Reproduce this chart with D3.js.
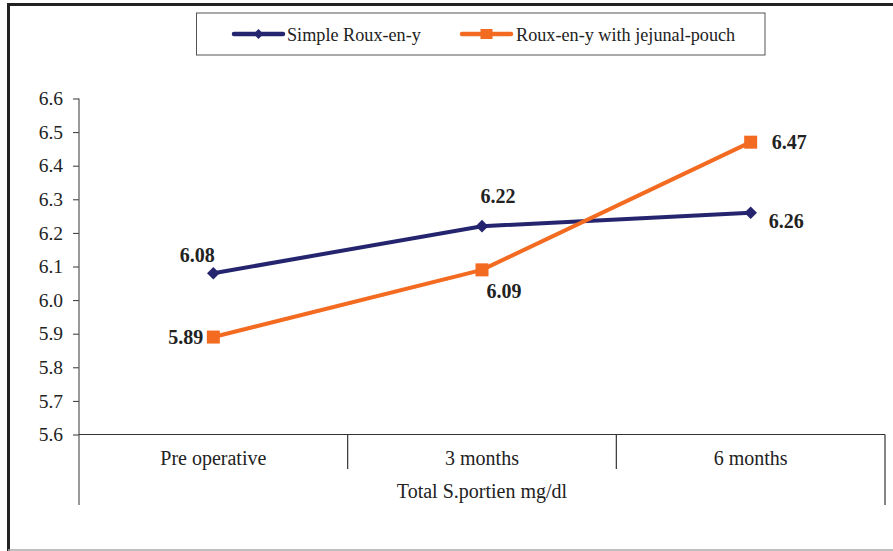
<!DOCTYPE html>
<html><head><meta charset="utf-8">
<script src="https://cdn.jsdelivr.net/npm/d3@7"></script>
<style>body{margin:0;background:#fff}text{font-family:"Liberation Serif","Times New Roman",serif}</style>
</head><body>
<svg id="c" width="893" height="551"></svg>
<script>
const categories = ["Pre operative", "3 months", "6 months"];
const seriesNames = ["Simple Roux-en-y", "Roux-en-y with jejunal-pouch"];
const simpleValues = [6.08, 6.22, 6.26];
const pouchValues = [5.89, 6.09, 6.47];
const yTicks = [5.6, 5.7, 5.8, 5.9, 6.0, 6.1, 6.2, 6.3, 6.4, 6.5, 6.6];
const axisTitle = "Total S.portien mg/dl";
const colors = ["#25256f", "#f36b21"];
const FONT = "Liberation Serif, Times New Roman, serif";

const svg = d3.select("#c").attr("font-family", FONT);
const L = 79, R = 885, T = 98.5, B = 434.5;
const x = d3.scaleBand().domain(categories).range([L, R]).padding(0);
const y = d3.scaleLinear().domain([5.6, 6.6]).range([B, T]);
const cx = c => x(c) + x.bandwidth() / 2;

// outer frame
svg.append("line").attr("x1", 8.5).attr("x2", 893).attr("y1", 4.5).attr("y2", 4.5).attr("stroke", "#222").attr("stroke-width", 3);
svg.append("line").attr("x1", 8.5).attr("x2", 8.5).attr("y1", 3).attr("y2", 551).attr("stroke", "#222").attr("stroke-width", 3);
svg.append("line").attr("x1", 8).attr("x2", 893).attr("y1", 550).attr("y2", 550).attr("stroke", "#aaa").attr("stroke-width", 1.5);

// y axis
const ya = svg.append("g").attr("transform", `translate(${L},0)`)
  .call(d3.axisLeft(y).tickValues(yTicks).tickFormat(d3.format(".1f")).tickSize(6).tickPadding(10));
ya.attr("font-family", FONT).attr("font-size", 19.5);
ya.select(".domain").remove();
ya.selectAll(".tick line").attr("stroke", "#333");
ya.selectAll(".tick text").attr("fill", "#222");
svg.append("line").attr("x1", L).attr("x2", L).attr("y1", T).attr("y2", 505).attr("stroke", "#555").attr("stroke-width", 1.2);

// category table
svg.append("line").attr("x1", L).attr("x2", R).attr("y1", B).attr("y2", B).attr("stroke", "#333").attr("stroke-width", 1.2);
svg.append("line").attr("x1", R).attr("x2", R).attr("y1", B).attr("y2", 505).attr("stroke", "#333").attr("stroke-width", 1.2);
categories.slice(1).forEach(c => {
  svg.append("line").attr("x1", x(c)).attr("x2", x(c)).attr("y1", B).attr("y2", 469).attr("stroke", "#333").attr("stroke-width", 1.2);
});
svg.selectAll("text.cat").data(categories).join("text").attr("class", "cat")
  .attr("x", d => cx(d)).attr("y", 465).attr("text-anchor", "middle").attr("font-size", 20).attr("fill", "#222").text(d => d);
svg.append("text").attr("x", cx(categories[1])).attr("y", 498).attr("text-anchor", "middle").attr("font-size", 20).attr("fill", "#222").text(axisTitle);

// lines
const line = d3.line().x((d, i) => cx(categories[i])).y(d => y(d));
[simpleValues, pouchValues].forEach((vals, k) => {
  svg.append("path").datum(vals).attr("d", line).attr("fill", "none").attr("stroke", colors[k]).attr("stroke-width", 4);
});
// markers
const diamond = d3.symbol().type(d3.symbolSquare).size(80);
svg.selectAll("path.dm").data(simpleValues).join("path").attr("class", "dm")
  .attr("d", diamond).attr("transform", (d, i) => `translate(${cx(categories[i])},${y(d)}) rotate(45)`)
  .attr("fill", colors[0]);
svg.selectAll("rect.sq").data(pouchValues).join("rect").attr("class", "sq")
  .attr("x", (d, i) => cx(categories[i]) - 6.5).attr("y", d => y(d) - 6.5).attr("width", 13).attr("height", 13)
  .attr("fill", colors[1]);

// value labels
const lab = (t, xx, yy, anchor) => svg.append("text").attr("x", xx).attr("y", yy).attr("text-anchor", anchor)
  .attr("font-size", 20).attr("font-weight", "bold").attr("fill", "#222").text(t);
const f2 = d3.format(".2f");
lab(f2(simpleValues[0]), cx(categories[0]) - 16, y(simpleValues[0]) - 11, "middle");
lab(f2(simpleValues[1]), cx(categories[1]) + 16, y(simpleValues[1]) - 23, "middle");
lab(f2(simpleValues[2]), cx(categories[2]) + 18, y(simpleValues[2]) + 15, "start");
lab(f2(pouchValues[0]), cx(categories[0]) - 10, y(pouchValues[0]) + 7, "end");
lab(f2(pouchValues[1]), cx(categories[1]) + 22, y(pouchValues[1]) + 28, "middle");
lab(f2(pouchValues[2]), cx(categories[2]) + 21, y(pouchValues[2]) + 7, "start");

// legend
svg.append("rect").attr("x", 196.5).attr("y", 13).attr("width", 568.5).attr("height", 42).attr("fill", "#fff").attr("stroke", "#555").attr("stroke-width", 1);
const leg = [{x: 234, tx: 287}, {x: 462, tx: 516}];
leg.forEach((l, k) => {
  svg.append("line").attr("x1", l.x).attr("x2", l.x + 49).attr("y1", 34).attr("y2", 34).attr("stroke", colors[k]).attr("stroke-width", 4.5).attr("stroke-linecap", "round");
  if (k === 0) svg.append("path").attr("d", d3.symbol().type(d3.symbolSquare).size(50)).attr("transform", `translate(${l.x + 24.5},34) rotate(45)`).attr("fill", colors[0]);
  else svg.append("rect").attr("x", l.x + 24.5 - 6).attr("y", 29).attr("width", 12).attr("height", 10).attr("fill", colors[1]);
  svg.append("text").attr("x", l.tx).attr("y", 40.5).attr("font-size", 18.2).attr("fill", "#222").text(seriesNames[k]);
});
</script>
</body></html>
